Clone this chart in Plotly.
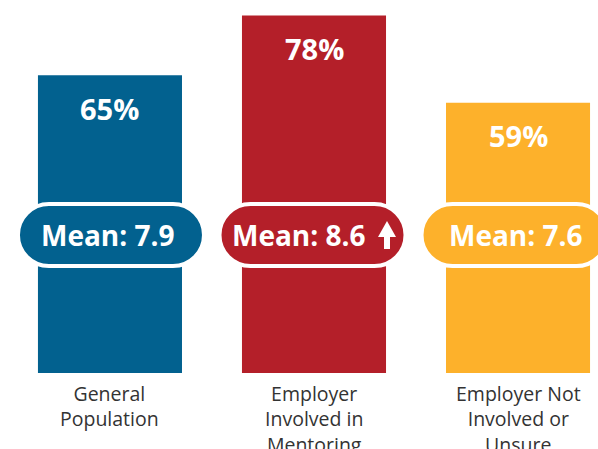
import plotly.graph_objects as go

# data
groups = ["General<br>Population",
          "Employer<br>Involved in<br>Mentoring",
          "Employer Not<br>Involved or<br>Unsure"]
pct = [65, 78, 59]
means = [7.9, 8.6, 7.6]
mean_up = [False, True, False]
colors = ["#02618F", "#B41F29", "#FDB12B"]

W, H = 598, 449
PILL_Y = 30.1          # data units, vertical centre of the "Mean" pills
PILL_W, PILL_H = 186, 62
PILL_DX = [1, -1.5, -3.5]
FONT = "Open Sans"


def pill_path(w, h, dx=0):
    # rounded-ends rectangle in pixels around (dx, 0)
    r = h / 2
    k = 0.5523 * r
    x0, x1 = dx - w / 2 + r, dx + w / 2 - r
    return (f"M {x0} {r} L {x1} {r} "
            f"C {x1 + k} {r} {x1 + r} {k} {x1 + r} 0 "
            f"C {x1 + r} {-k} {x1 + k} {-r} {x1} {-r} "
            f"L {x0} {-r} "
            f"C {x0 - k} {-r} {x0 - r} {-k} {x0 - r} 0 "
            f"C {x0 - r} {k} {x0 - k} {r} {x0} {r} Z")


xs = list(range(len(pct)))
fig = go.Figure(go.Bar(x=xs, y=pct, marker_color=colors, marker_line_width=0,
                       width=0.706, hoverinfo="skip"))

for i, (p, m, up, c) in enumerate(zip(pct, means, mean_up, colors)):
    fig.add_annotation(x=i, y=p, yshift=-33, yanchor="middle", showarrow=False,
                       text=f"<b>{p}%</b>",
                       font=dict(family=FONT, size=29, color="white"))
    fig.add_shape(type="path", xref="x", yref="y", xsizemode="pixel", ysizemode="pixel",
                  xanchor=i, yanchor=PILL_Y, path=pill_path(PILL_W, PILL_H, PILL_DX[i]),
                  fillcolor=c, line=dict(color="white", width=4), layer="above")
    fig.add_annotation(x=i, y=PILL_Y, xshift=-15 if up else -2, yanchor="middle",
                       showarrow=False, text=f"<b>Mean: {m}</b>",
                       font=dict(family=FONT, size=28, color="white"))
    if up:
        fig.add_shape(type="path", xref="x", yref="y", xsizemode="pixel", ysizemode="pixel",
                      xanchor=i, yanchor=PILL_Y,
                      path="M 73 14 L 82 -2 L 76 -2 L 76 -14 L 70 -14 L 70 -2 L 64 -2 Z",
                      fillcolor="white", line_width=0, layer="above")
    fig.add_annotation(x=i, y=0, yref="paper", yanchor="top", yshift=-5,
                       showarrow=False, text=groups[i],
                       font=dict(family=FONT, size=19.5, color="#333333"))

fig.update_xaxes(range=[-0.539, 2.392], visible=False)
fig.update_yaxes(range=[0, 81.4], visible=False)
fig.update_layout(width=W, height=H, margin=dict(l=0, r=0, t=0, b=76),
                  paper_bgcolor="white", plot_bgcolor="white", showlegend=False)

fig.write_html("out.html", config={"displayModeBar": False},
               post_script="document.body.style.margin = '0';")
